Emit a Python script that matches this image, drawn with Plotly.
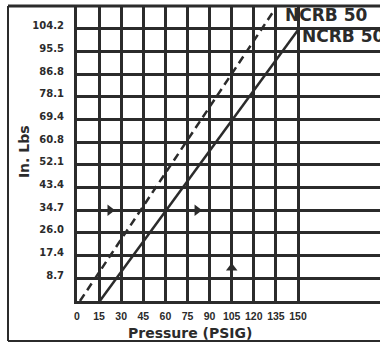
import plotly.graph_objects as go

# Pressure grid (PSIG) and its labels
pressure_ticks = [0, 15, 30, 45, 60, 75, 90, 105, 120, 135, 150]
pressure_labels = ["0", "15", "30", "45", "60", "75", "90", "105", "120", "135", "150"]

# Torque grid (in. lbs) and its labels
torque_ticks = [8.68, 17.36, 26.04, 34.72, 43.40, 52.08, 60.76, 69.44, 78.12, 86.80, 95.48, 104.16]
torque_labels = ["8.7", "17.4", "26.0", "34.7", "43.4", "52.1", "60.8", "69.4",
                 "78.1", "86.8", "95.5", "104.2"]
torque_max = 112.84

# NCRB 50 output torque curves
ncrb_dashed_psi = [2.0, 133.0]
ncrb_dashed_torque = [0.0, 110.5]
ncrb_solid_psi = [15.5, 150.0]
ncrb_solid_torque = [0.0, 103.7]

# Direction arrows
arrow_right_psi = [22.4, 81.5]
arrow_right_torque = [34.72, 34.72]
arrow_up_psi = [105.0]
arrow_up_torque = [12.6]

INK = "#2b2b2b"
FONT = "DejaVu Sans"
NARROW = "Liberation Sans"

fig = go.Figure()

fig.add_trace(go.Scatter(
    x=ncrb_dashed_psi, y=ncrb_dashed_torque, mode="lines",
    line=dict(color=INK, width=2.5, dash="8px,5px"),
    showlegend=False, hoverinfo="skip"))
fig.add_trace(go.Scatter(
    x=ncrb_solid_psi, y=ncrb_solid_torque, mode="lines",
    line=dict(color=INK, width=2.5),
    showlegend=False, hoverinfo="skip"))
fig.add_trace(go.Scatter(
    x=arrow_right_psi, y=arrow_right_torque, mode="markers",
    marker=dict(symbol="triangle-right", size=10, color=INK),
    showlegend=False, hoverinfo="skip"))
fig.add_trace(go.Scatter(
    x=arrow_up_psi, y=arrow_up_torque, mode="markers",
    marker=dict(symbol="triangle-up", size=10, color=INK),
    showlegend=False, hoverinfo="skip"))

# curve labels
fig.add_annotation(x=139.8, y=109.4, xref="x", yref="y", text="NCRB 50",
                   showarrow=False, xanchor="left", yanchor="middle",
                   font=dict(family=FONT, size=17, color=INK, weight="bold"))
fig.add_annotation(x=151.4, y=101.4, xref="x", yref="y", text="NCRB 50",
                   showarrow=False, xanchor="left", yanchor="middle",
                   font=dict(family=FONT, size=17, color=INK, weight="bold"))

# axis titles
fig.add_annotation(x=0.373, y=-0.1085, xref="paper", yref="paper",
                   text="Pressure (PSIG)", showarrow=False,
                   xanchor="center", yanchor="middle",
                   font=dict(family=FONT, size=14, color=INK, weight="bold"))
fig.add_annotation(x=-0.175, y=0.508, xref="paper", yref="paper",
                   text="In. Lbs", showarrow=False, textangle=-90,
                   xanchor="center", yanchor="middle",
                   font=dict(family=FONT, size=14, color=INK, weight="bold"))

# outer frame and top rule
fx0, fy0 = -0.2277, -0.1356
fig.add_shape(type="line", xref="paper", yref="paper", x0=fx0, y0=fy0, x1=fx0, y1=1.0,
              line=dict(color=INK, width=2))
fig.add_shape(type="line", xref="paper", yref="paper", x0=fx0, y0=fy0, x1=1.05, y1=fy0,
              line=dict(color=INK, width=2))
fig.add_shape(type="line", xref="paper", yref="paper", x0=fx0, y0=1.0, x1=1.05, y1=1.0,
              line=dict(color=INK, width=3))

fig.update_layout(
    width=380, height=344,
    margin=dict(l=77, r=0, t=6, b=43),
    paper_bgcolor="white", plot_bgcolor="white",
    xaxis=dict(range=[0, 205.66], tickvals=pressure_ticks, ticktext=pressure_labels,
               tickangle=0, showgrid=True, gridcolor=INK, gridwidth=2.5, zeroline=False,
               showline=True, linecolor=INK, linewidth=3,
               ticks="outside", ticklen=3, tickcolor="rgba(0,0,0,0)",
               tickfont=dict(family=NARROW, size=10.5, color=INK, weight="bold")),
    yaxis=dict(range=[0, torque_max], tickvals=torque_ticks, ticktext=torque_labels,
               showgrid=True, gridcolor=INK, gridwidth=2.5, zeroline=False,
               showline=True, linecolor=INK, linewidth=3, ticks="",
               ticklabelstandoff=8, ticklabelshift=-3,
               tickfont=dict(family=FONT, size=10, color=INK, weight="bold")),
)

fig.write_html("out.html")
